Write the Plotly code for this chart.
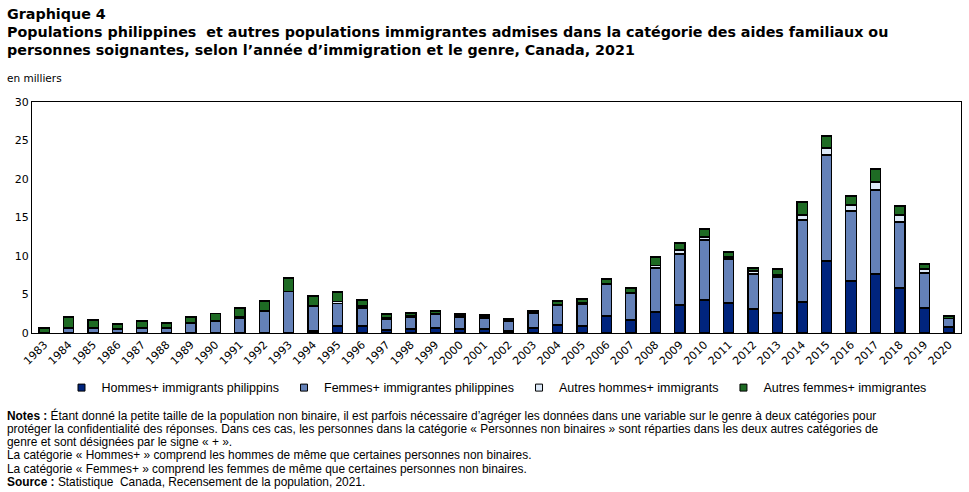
import plotly.graph_objects as go

years = [str(y) for y in range(1983, 2021)]

hommes_phil = [0.02, 0.05, 0.05, 0.03, 0.05, 0.05, 0.05, 0.05, 0.05, 0.1, 0.1, 0.26,
               0.91, 0.91, 0.39, 0.52, 0.65, 0.52, 0.52, 0.26, 0.65, 1.04, 0.91, 2.21, 1.69,
               2.73, 3.64, 4.29, 3.9, 3.12, 2.6, 4.03, 9.35, 6.75, 7.66, 5.84, 3.25, 0.78]
femmes_phil = [0.08, 0.6, 0.6, 0.49, 0.6, 0.6, 1.25, 1.47, 1.9, 2.7, 5.3, 3.2,
               2.94, 2.34, 1.38, 1.56, 1.82, 1.56, 1.43, 1.26, 1.9, 2.56, 2.86, 4.11, 3.46,
               5.71, 6.62, 7.79, 5.71, 4.54, 4.67, 10.65, 13.77, 9.09, 10.91, 8.58, 4.54, 1.08]
autres_hommes = [0.0, 0.0, 0.1, 0.0, 0.1, 0.0, 0.0, 0.15, 0.21, 0.15, 0.0, 0.15,
                 0.26, 0.25, 0.17, 0.13, 0.05, 0.15, 0.13, 0.05, 0.05, 0.15, 0.15, 0.15, 0.15,
                 0.35, 0.52, 0.39, 0.26, 0.39, 0.26, 0.65, 0.91, 0.78, 1.04, 0.9, 0.52, 0.05]
autres_femmes = [0.55, 1.43, 0.94, 0.65, 0.81, 0.65, 0.78, 0.88, 1.09, 1.21, 1.74, 1.19,
                 1.21, 0.79, 0.53, 0.39, 0.34, 0.24, 0.26, 0.25, 0.26, 0.41, 0.5, 0.54, 0.54,
                 1.08, 0.91, 1.04, 0.65, 0.39, 0.78, 1.69, 1.56, 1.17, 1.69, 1.17, 0.65, 0.3]

series = [
    ("Hommes+ immigrants philippins", hommes_phil, "#00247D"),
    ("Femmes+ immigrantes philippines", femmes_phil, "#6481B8"),
    ("Autres hommes+ immigrants", autres_hommes, "#DCE9F8"),
    ("Autres femmes+ immigrantes", autres_femmes, "#1E6B24"),
]

FONT = "DejaVu Sans"

fig = go.Figure()
for name, vals, col in series:
    fig.add_trace(go.Bar(
        x=years, y=vals, name=name, showlegend=False,
        marker=dict(color=col, line=dict(color="black", width=1.2)),
    ))
# legend entries with small square markers
for name, vals, col in series:
    fig.add_trace(go.Scatter(
        x=[None], y=[None], mode="markers", name=name,
        marker=dict(symbol="square", size=7, color=col, line=dict(color="black", width=1)),
    ))

fig.update_layout(
    barmode="stack",
    bargap=0.58,
    width=969, height=492,
    margin=dict(l=32, r=8, t=102, b=159),
    paper_bgcolor="white", plot_bgcolor="white",
    font=dict(family=FONT, size=11, color="black"),
    showlegend=True,
    legend=dict(orientation="h", x=0.5, xanchor="center", y=-0.238, yanchor="middle",
                font=dict(family="Liberation Sans", size=12.5), traceorder="normal",
                itemwidth=30, tracegroupgap=0),
    xaxis=dict(showline=True, linecolor="black", linewidth=1, mirror=True,
               tickangle=-45, ticks="", tickfont=dict(size=11, family=FONT)),
    yaxis=dict(range=[0, 30], tickvals=[0, 5, 10, 15, 20, 25, 30], showgrid=False,
               showline=True, linecolor="black", linewidth=1, mirror=True,
               ticks="", zeroline=False, tickfont=dict(size=11, family=FONT)),
)

anns = [
    dict(x=5, y=14, text="<b>Graphique 4</b>", size=14.3, fam=FONT),
    dict(x=5, y=32, text="<b>Populations philippines  et autres populations immigrantes admises dans la catégorie des aides familiaux ou</b>", size=14.3, fam=FONT),
    dict(x=5, y=50, text="<b>personnes soignantes, selon l’année d’immigration et le genre, Canada, 2021</b>", size=14.3, fam=FONT),
    dict(x=5, y=78, text="en milliers", size=10.5, fam=FONT),
]
notes = [
    "<b>Notes :</b> Étant donné la petite taille de la population non binaire, il est parfois nécessaire d’agréger les données dans une variable sur le genre à deux catégories pour",
    "protéger la confidentialité des réponses. Dans ces cas, les personnes dans la catégorie « Personnes non binaires » sont réparties dans les deux autres catégories de",
    "genre et sont désignées par le signe « + ».",
    "La catégorie « Hommes+ » comprend les hommes de même que certaines personnes non binaires.",
    "La catégorie « Femmes+ » comprend les femmes de même que certaines personnes non binaires.",
    "<b>Source :</b> Statistique  Canada, Recensement de la population, 2021.",
]
for i, t in enumerate(notes):
    anns.append(dict(x=5, y=415.5 + i * 13.3, text=t, size=11.9, fam="Liberation Sans"))

for a in anns:
    fig.add_annotation(
        xref="paper", yref="paper",
        x=a["x"] / (969 - 40) - 32 / (969 - 40),
        y=1 - (a["y"] - 102) / (492 - 102 - 159),
        xanchor="left", yanchor="middle", showarrow=False, align="left",
        text=a["text"], font=dict(family=a["fam"], size=a["size"], color="black"),
    )

fig.write_html("out.html")
